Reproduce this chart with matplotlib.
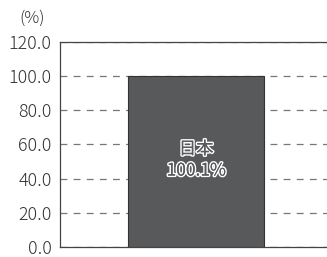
import matplotlib
matplotlib.use("Agg")
import matplotlib.pyplot as plt
import matplotlib.patheffects as pe

plt.rcParams['font.family'] = ['Noto Sans CJK JP', 'DejaVu Sans']

countries = ['日本']
values = [100.1]
yticks = [0, 20, 40, 60, 80, 100, 120]

fig = plt.figure(figsize=(3.27, 2.57), dpi=100)
ax = fig.add_axes([0.1835, 0.039, 0.8165, 0.798])

bar_color = '#58595b'
ax.bar([0.51], values, width=0.51, color=bar_color, edgecolor='#333333', linewidth=0.8, zorder=3)

ax.set_xlim(0, 1)
ax.set_ylim(0, 120)
ax.set_yticks(yticks)
ax.set_yticklabels([f'{v:.1f}' for v in yticks], fontsize=12.8, color='#333333', fontweight='light')
ax.set_xticks([])
ax.tick_params(axis='y', length=0, pad=6)
ax.yaxis.grid(True, linestyle=(0, (5.5, 5)), color='#777777', linewidth=0.9)
ax.set_axisbelow(True)

for s in ['left', 'bottom', 'top']:
    ax.spines[s].set_color('#444444')
    ax.spines[s].set_linewidth(0.9)
ax.spines['right'].set_visible(False)

ax.text(0.51, 51, f'{countries[0]}\n{values[0]:.1f}%', ha='center', va='center',
        fontsize=12.5, color=bar_color, linespacing=1.25, zorder=4,
        path_effects=[pe.withStroke(linewidth=2.2, foreground='white'),
                      pe.Normal()])

fig.text(0.06, 0.93, '(%)', ha='left', va='center', fontsize=12, color='#333333',
         fontweight='light')

fig.savefig('out.png', dpi=100)
